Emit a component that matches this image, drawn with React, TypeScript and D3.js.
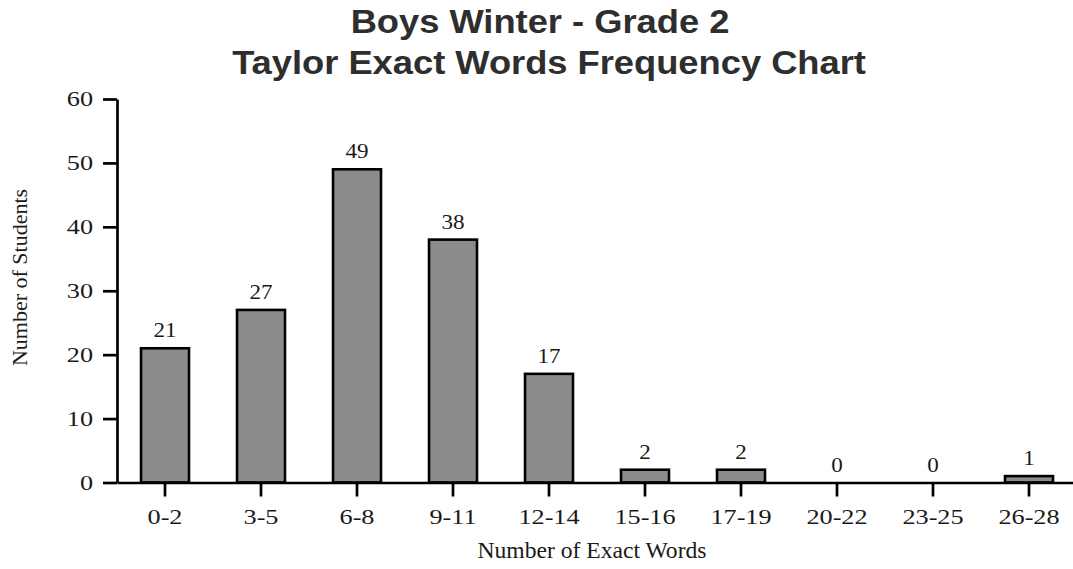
import React, { useRef, useEffect } from "react";
import * as d3 from "d3";

const categories = ["0-2", "3-5", "6-8", "9-11", "12-14", "15-16", "17-19", "20-22", "23-25", "26-28"];
const counts = [21, 27, 49, 38, 17, 2, 2, 0, 0, 1];
const yTicks = [0, 10, 20, 30, 40, 50, 60];

const width = 1073;
const height = 569;
const serif = "'Liberation Serif', 'Times New Roman', serif";
const sans = "'Liberation Sans', Arial, sans-serif";
// the source renders its fonts a bit wider than ours
const tickStretch = 1.25;
const labelStretch = 1.1;

export default function App() {
  const svgRef = useRef<SVGSVGElement>(null);

  useEffect(() => {
    if (!svgRef.current) return;
    const svg = d3.select(svgRef.current);
    svg.selectAll("*").remove();

    const x = d3.scaleBand<string>()
      .domain(categories)
      .range([117, 1077])
      .paddingInner(0.5)
      .paddingOuter(0.25);

    const y = d3.scaleLinear().domain([0, 60]).range([482.5, 99]);

    // title, two lines
    const title = svg.append("g")
      .attr("font-family", sans)
      .attr("font-weight", "bold")
      .attr("font-size", 33)
      .attr("fill", "#2e2e2e")
      .attr("text-anchor", "middle");
    title.append("text")
      .attr("transform", `translate(540,33) scale(${labelStretch},1)`)
      .text("Boys Winter - Grade 2");
    title.append("text")
      .attr("transform", `translate(549,74) scale(${labelStretch},1)`)
      .text("Taylor Exact Words Frequency Chart");

    // bars
    svg.append("g")
      .selectAll("rect")
      .data(counts)
      .enter()
      .append("rect")
      .attr("x", (d, i) => x(categories[i]) || 0)
      .attr("width", x.bandwidth())
      .attr("y", d => y(d))
      .attr("height", d => y(0) - y(d))
      .attr("fill", "#8b8c89")
      .attr("stroke", d => (d > 0 ? "#000" : "none"))
      .attr("stroke-width", 2.6);

    // value labels above bars
    svg.append("g")
      .attr("font-family", serif)
      .attr("font-size", 21)
      .attr("fill", "#1a1a1a")
      .attr("text-anchor", "middle")
      .selectAll("text")
      .data(counts)
      .enter()
      .append("text")
      .attr("transform", (d, i) =>
        `translate(${(x(categories[i]) || 0) + x.bandwidth() / 2},${y(d) - 11}) scale(${labelStretch},1)`)
      .text(d => String(d));

    // y axis
    const yAxis = svg.append("g")
      .attr("transform", "translate(117,0)")
      .call(d3.axisLeft(y).tickValues(yTicks).tickSize(14).tickSizeOuter(0).tickPadding(10) as any);
    yAxis.selectAll("path, line").attr("stroke", "#000").attr("stroke-width", 2.7);
    yAxis.selectAll("text")
      .attr("font-family", serif)
      .attr("font-size", 21)
      .attr("fill", "#1a1a1a")
      .attr("x", -24 / tickStretch)
      .attr("transform", `scale(${tickStretch},1)`);

    // x axis
    const xAxis = svg.append("g")
      .attr("transform", "translate(0,482.5)")
      .call(d3.axisBottom(x).tickSize(14).tickSizeOuter(0).tickPadding(13) as any);
    xAxis.selectAll("path, line").attr("stroke", "#000").attr("stroke-width", 2.7);
    xAxis.selectAll("text")
      .attr("font-family", serif)
      .attr("font-size", 21)
      .attr("fill", "#1a1a1a")
      .attr("transform", `scale(${tickStretch},1)`);

    // axis titles
    svg.append("text")
      .attr("transform", "translate(592,558) scale(1.05,1)")
      .attr("text-anchor", "middle")
      .attr("font-family", serif)
      .attr("font-size", 22.5)
      .attr("fill", "#1a1a1a")
      .text("Number of Exact Words");

    svg.append("text")
      .attr("transform", "translate(27,277.5) rotate(-90)")
      .attr("text-anchor", "middle")
      .attr("font-family", serif)
      .attr("font-size", 22)
      .attr("fill", "#1a1a1a")
      .text("Number of Students");
  }, []);

  return (
    <svg
      ref={svgRef}
      width={width}
      height={height}
      style={{ position: "absolute", left: 0, top: 0, background: "#fff" }}
    />
  );
}
